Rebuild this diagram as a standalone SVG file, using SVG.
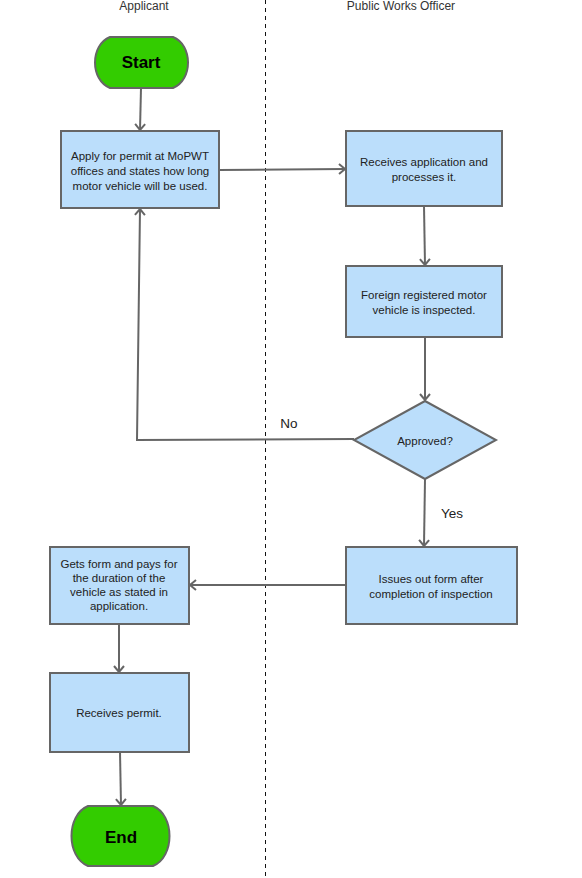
<svg xmlns="http://www.w3.org/2000/svg" width="582" height="878" viewBox="0 0 582 878">
<style>
.box{fill:#bbdefb;stroke:#666;stroke-width:2}
.term{fill:#33cc00;stroke:#666;stroke-width:2}
.t{font-family:"Liberation Sans",Arial,sans-serif;font-size:11.5px;fill:#222;text-anchor:middle}
.tb{font-family:"Liberation Sans",Arial,sans-serif;font-size:17px;font-weight:bold;fill:#000;text-anchor:middle}
.h{font-family:"Liberation Sans",Arial,sans-serif;font-size:12px;fill:#333;text-anchor:middle}
.lbl{font-family:"Liberation Sans",Arial,sans-serif;font-size:13.5px;fill:#222;text-anchor:middle}
.c{fill:none;stroke:#666;stroke-width:2;marker-end:url(#arr)}
</style>
<defs>
<marker id="arr" viewBox="0 0 8 12" refX="7" refY="6" markerWidth="8" markerHeight="12" orient="auto" markerUnits="userSpaceOnUse">
<path d="M1,1 L7,6 L1,11" fill="none" stroke="#666" stroke-width="2"/>
</marker>
</defs>
<rect width="582" height="878" fill="#fff"/>
<line x1="265.5" y1="0" x2="265.5" y2="878" stroke="#111" stroke-width="1" stroke-dasharray="4,4"/>
<text class="h" x="144" y="10">Applicant</text>
<text class="h" x="401" y="10">Public Works Officer</text>

<g id="connectors">
<path class="c" d="M141,88 L140,130"/>
<path class="c" d="M219,170 L345,169"/>
<path class="c" d="M424,206 L425,265"/>
<path class="c" d="M425,337 L425,400"/>
<path class="c" d="M354,439 L137,440 L140,209"/>
<path class="c" d="M425,479 L424,546"/>
<path class="c" d="M346,585 L190,585"/>
<path class="c" d="M119,624 L119,672"/>
<path class="c" d="M120,752 L121,805"/>
<text class="lbl" x="289" y="428">No</text>
<text class="lbl" x="452" y="518">Yes</text>
</g>

<g id="start">
<path class="term" d="M110,37 L173,37 C193,45 193,80 173,88 L110,88 C90,80 90,45 110,37 Z"/>
<text class="tb" x="141" y="68">Start</text>
</g>
<g id="apply">
<rect class="box" x="61" y="131" width="158" height="77"/>
<text class="t" x="140" y="160">Apply for permit at MoPWT</text>
<text class="t" x="140" y="175">offices and states how long</text>
<text class="t" x="140" y="190">motor vehicle will be used.</text>
</g>
<g id="receives">
<rect class="box" x="346" y="131" width="156" height="75"/>
<text class="t" x="424" y="166">Receives application and</text>
<text class="t" x="424" y="181">processes it.</text>
</g>
<g id="inspected">
<rect class="box" x="346" y="266" width="156" height="71"/>
<text class="t" x="424" y="299">Foreign registered motor</text>
<text class="t" x="424" y="314">vehicle is inspected.</text>
</g>
<g id="approved">
<polygon class="box" points="425,401 496,440 425,479 354,440"/>
<text class="t" x="425" y="445">Approved?</text>
</g>
<g id="issues">
<rect class="box" x="346" y="547" width="171" height="77"/>
<text class="t" x="431" y="583">Issues out form after</text>
<text class="t" x="431" y="598">completion of inspection</text>
</g>
<g id="gets">
<rect class="box" x="50" y="547" width="139" height="77"/>
<text class="t" x="119" y="568">Gets form and pays for</text>
<text class="t" x="119" y="582">the duration of the</text>
<text class="t" x="119" y="596">vehicle as stated in</text>
<text class="t" x="119" y="610">application.</text>
</g>
<g id="permit">
<rect class="box" x="50" y="673" width="139" height="79"/>
<text class="t" x="119" y="717">Receives permit.</text>
</g>
<g id="end">
<path class="term" d="M88,806 L153,806 C175,815 175,857 153,866 L88,866 C66,857 66,815 88,806 Z"/>
<text class="tb" x="121" y="843">End</text>
</g>
</svg>
